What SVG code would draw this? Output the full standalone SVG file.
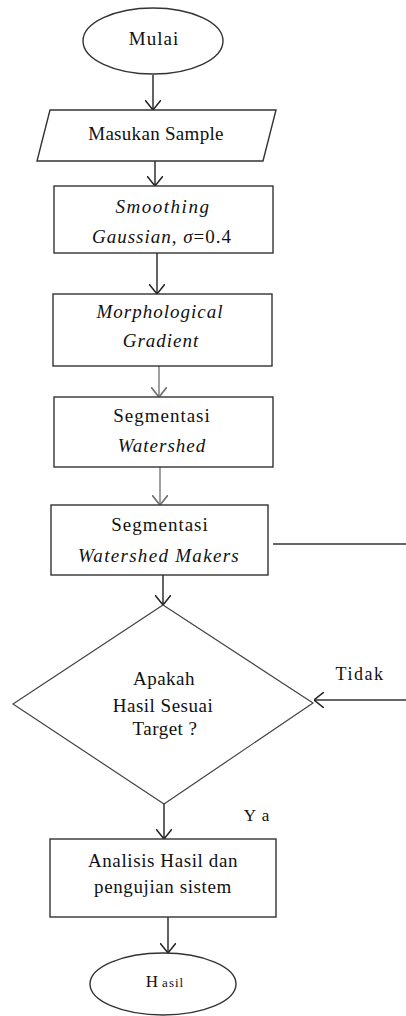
<svg xmlns="http://www.w3.org/2000/svg" width="406" height="1016" viewBox="0 0 406 1016">
<defs>
<style>
.shape{fill:#fff;stroke:#333;stroke-width:1.4}
.dia{fill:#fff;stroke:#444;stroke-width:1.2}
.t{font-family:"Liberation Serif","Times New Roman",serif;font-size:19px;fill:#111;text-anchor:middle;letter-spacing:1px}
.i{font-style:italic}
.conn{fill:none;stroke:#222;stroke-width:1.4}
.gray{stroke:#777}
</style>
<marker id="arr" viewBox="0 0 10 16" refX="10" refY="8" markerWidth="10" markerHeight="16" markerUnits="userSpaceOnUse" orient="auto">
<path d="M0,0 L10,8 L0,16" fill="none" stroke="#222" stroke-width="1.5"/>
</marker>
<marker id="arrg" viewBox="0 0 10 16" refX="10" refY="8" markerWidth="10" markerHeight="16" markerUnits="userSpaceOnUse" orient="auto">
<path d="M0,0 L10,8 L0,16" fill="none" stroke="#777" stroke-width="1.8"/>
</marker>
</defs>
<rect width="406" height="1016" fill="#fff"/>
<g id="connectors">
<line class="conn" x1="153" y1="75" x2="153" y2="110" marker-end="url(#arr)"/>
<line class="conn" x1="155" y1="161" x2="155" y2="186" marker-end="url(#arr)"/>
<line class="conn" x1="157" y1="253" x2="157" y2="294" marker-end="url(#arr)"/>
<line class="conn gray" x1="159" y1="366" x2="159" y2="397" marker-end="url(#arrg)"/>
<line class="conn gray" x1="160" y1="467" x2="160" y2="505" marker-end="url(#arrg)"/>
<line class="conn" x1="163" y1="575" x2="163" y2="605" marker-end="url(#arr)"/>
<path class="conn" d="M273,544 H412 V700 H314" marker-end="url(#arr)" style="stroke:#333"/>
<line class="conn" x1="164" y1="804" x2="164" y2="839" marker-end="url(#arr)"/>
<line class="conn" x1="168" y1="917" x2="168" y2="953" marker-end="url(#arr)"/>
</g>
<g id="mulai">
<ellipse class="shape" cx="153" cy="41" rx="70" ry="33"/>
<text class="t" x="154" y="45">Mulai</text>
</g>
<g id="masukan">
<polygon class="shape" points="50,110 276,110 263,161 37,161"/>
<text class="t" x="156" y="140" style="letter-spacing:0.3px">Masukan Sample</text>
</g>
<g id="smoothing">
<rect class="shape" x="54" y="186" width="219" height="67"/>
<text class="t i" x="163" y="213" style="letter-spacing:1.5px">Smoothing</text>
<text class="t" x="162" y="243"><tspan class="i">Gaussian</tspan>, <tspan class="i">σ</tspan>=0.4</text>
</g>
<g id="morph">
<rect class="shape" x="53" y="294" width="219" height="72"/>
<text class="t i" x="160" y="318">Morphological</text>
<text class="t i" x="161" y="347">Gradient</text>
</g>
<g id="watershed">
<rect class="shape" x="54" y="397" width="219" height="70"/>
<text class="t" x="162" y="422">Segmentasi</text>
<text class="t i" x="162" y="452">Watershed</text>
</g>
<g id="makers">
<rect class="shape" x="51" y="505" width="217" height="70"/>
<text class="t" x="160" y="531">Segmentasi</text>
<text class="t i" x="159" y="562" style="letter-spacing:1.3px">Watershed Makers</text>
</g>
<g id="decision">
<polygon class="dia" points="163,605 313,703 164,804 13,704"/>
<text class="t" x="164" y="685" style="letter-spacing:0.5px">Apakah</text>
<text class="t" x="163" y="712" style="letter-spacing:0.5px">Hasil Sesuai</text>
<text class="t" x="165" y="735" style="letter-spacing:0.5px">Target ?</text>
</g>
<g id="label-tidak">
<text class="t" x="360" y="680" style="font-size:18px;letter-spacing:1.5px">Tidak</text>
</g>
<g id="label-ya">
<text class="t" x="257" y="821" style="font-size:17px">Y a</text>
</g>
<g id="analisis">
<rect class="shape" x="50" y="839" width="226" height="78"/>
<text class="t" x="163" y="867" style="letter-spacing:0.6px">Analisis Hasil dan</text>
<text class="t" x="163" y="893" style="letter-spacing:0.6px">pengujian sistem</text>
</g>
<g id="hasil">
<ellipse class="shape" cx="163" cy="984" rx="73" ry="31"/>
<text class="t" x="165" y="987" style="font-size:17px">H<tspan dx="3" style="font-size:13px">asil</tspan></text>
</g>
</svg>
